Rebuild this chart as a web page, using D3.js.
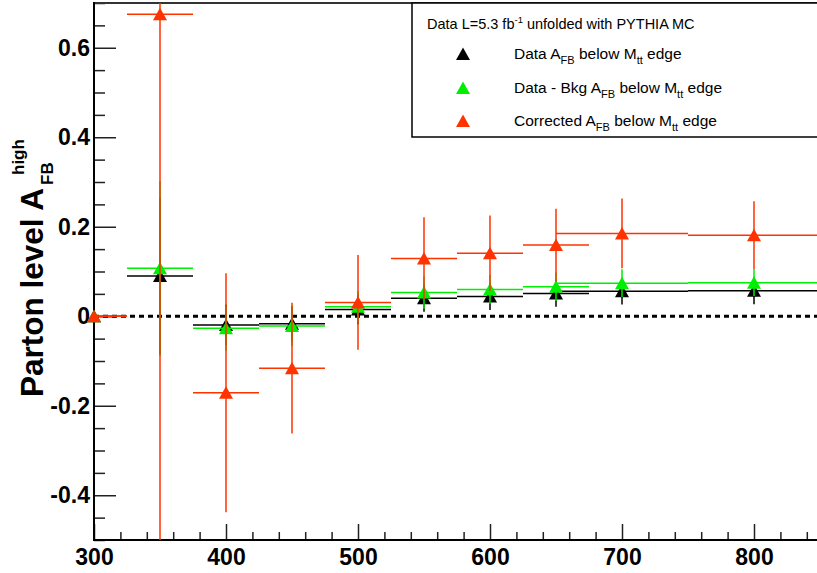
<!DOCTYPE html>
<html>
<head>
<meta charset="utf-8">
<script src="https://cdn.jsdelivr.net/npm/d3@7"></script>
<style>
  html, body { margin: 0; padding: 0; background: #fff; }
  svg { display: block; font-family: "Liberation Sans", Arial, Helvetica, sans-serif; }
</style>
</head>
<body>
<svg id="chart" width="817" height="573"></svg>
<script>
// ---- data ----
const massBins = [300, 350, 400, 450, 500, 550, 600, 650, 700, 800];
const binHalfWidth = [25, 25, 25, 25, 25, 25, 25, 25, 50, 50];
const dataAfb = [0, 0.090, -0.0195, -0.017, 0.015, 0.040, 0.044, 0.051, 0.056, 0.057];
const dataAfbErr = [0, 0.175, 0.045, 0.040, 0.033, 0.030, 0.030, 0.030, 0.030, 0.030];
const bkgSubAfb = [0, 0.107, -0.027, -0.022, 0.021, 0.053, 0.060, 0.066, 0.074, 0.075];
const bkgSubAfbErr = [0, 0.195, 0.050, 0.045, 0.035, 0.036, 0.032, 0.032, 0.031, 0.030];
const correctedAfb = [0, 0.675, -0.171, -0.116, 0.031, 0.129, 0.141, 0.159, 0.185, 0.181];
const correctedAfbErr = [0, 1.30, 0.267, 0.146, 0.106, 0.092, 0.084, 0.081, 0.078, 0.076];
const xTicks = [300, 400, 500, 600, 700, 800];
const yTicks = [-0.4, -0.2, 0, 0.2, 0.4, 0.6];
const seriesNames = ["Data", "Data - Bkg", "Corrected"];
const seriesColors = ["#000000", "#00ee00", "#ff3300"];

// ---- layout ----
const svg = d3.select("#chart");
const L = 94, R = 820, T = 3, B = 540;
const x = d3.scaleLinear().domain([300, 850]).range([L, R]);
const y = d3.scaleLinear().domain([-0.5, 0.7]).range([B, T]);

svg.append("defs").append("clipPath").attr("id", "plotclip")
  .append("rect").attr("x", L).attr("y", T).attr("width", R - L).attr("height", B - T);

// ticks (minor)
const xMinor = d3.range(300, 851, 20).filter(v => v % 100 !== 0);
const yMinor = d3.range(-0.5, 0.7001, 0.05).map(v => +v.toFixed(2)).filter(v => Math.abs(Math.round(v / 0.2) * 0.2 - v) > 1e-6);

const gxMinor = svg.append("g").attr("transform", `translate(0,${B})`)
  .call(d3.axisBottom(x).tickValues(xMinor).tickSize(-8).tickFormat(""));
const gx = svg.append("g").attr("transform", `translate(0,${B})`)
  .call(d3.axisBottom(x).tickValues(xTicks).tickSize(-16).tickPadding(9).tickFormat(d3.format("d")));
const gyMinor = svg.append("g").attr("transform", `translate(${L},0)`)
  .call(d3.axisLeft(y).tickValues(yMinor).tickSize(-11).tickFormat(""));
const gy = svg.append("g").attr("transform", `translate(${L},0)`)
  .call(d3.axisLeft(y).tickValues(yTicks).tickSize(-22).tickPadding(4)
    .tickFormat(d => d === 0 ? "0" : d3.format(".1f")(d).replace("\u2212", "-")));

[gxMinor, gx, gyMinor, gy].forEach(g => {
  g.select(".domain").remove();
  g.selectAll(".tick line").attr("stroke", "#222").attr("stroke-width", 1.5);
  g.selectAll(".tick text").attr("fill", "#000").attr("font-size", 23).attr("font-weight", "bold")
    .attr("font-family", "'Liberation Sans', Arial, Helvetica, sans-serif");
});

// frame lines
svg.append("line").attr("x1", L - 1).attr("x2", 817).attr("y1", T).attr("y2", T)
  .attr("stroke", "#333").attr("stroke-width", 2);
svg.append("line").attr("x1", L).attr("x2", L).attr("y1", T - 1).attr("y2", B + 1)
  .attr("stroke", "#000").attr("stroke-width", 2);
svg.append("line").attr("x1", L - 1).attr("x2", 817).attr("y1", B).attr("y2", B)
  .attr("stroke", "#000").attr("stroke-width", 2);

// zero dotted line
svg.append("line").attr("x1", x(300)).attr("x2", x(850)).attr("y1", y(0)).attr("y2", y(0))
  .attr("stroke", "#000").attr("stroke-width", 3.2).attr("stroke-dasharray", "5,4");

// data series
const triPath = "M0,-6.5L7,6L-7,6Z";
const allSeries = [
  { vals: dataAfb, errs: dataAfbErr },
  { vals: bkgSubAfb, errs: bkgSubAfbErr },
  { vals: correctedAfb, errs: correctedAfbErr }
];
allSeries.forEach((s, si) => {
  const col = seriesColors[si];
  const pts = massBins.map((m, i) => ({ m, hw: binHalfWidth[i], v: s.vals[i], e: s.errs[i] }));
  const g = svg.append("g");
  const gc = g.append("g").attr("clip-path", "url(#plotclip)");
  gc.selectAll("line.h").data(pts).join("line").attr("class", "h")
    .attr("x1", d => x(d.m - d.hw)).attr("x2", d => x(d.m + d.hw))
    .attr("y1", d => y(d.v)).attr("y2", d => y(d.v))
    .attr("stroke", col).attr("stroke-width", 1.5);
  gc.selectAll("line.v").data(pts.filter(d => d.e > 0)).join("line").attr("class", "v")
    .attr("x1", d => x(d.m)).attr("x2", d => x(d.m))
    .attr("y1", d => y(d.v - d.e)).attr("y2", d => y(d.v + d.e))
    .attr("stroke", col).attr("stroke-width", 1.5);
  g.selectAll("path.mk").data(pts).join("path").attr("class", "mk")
    .attr("d", triPath)
    .attr("transform", d => `translate(${x(d.m)},${y(d.v)})`)
    .attr("fill", col);
});

// legend
const lg = svg.append("g");
lg.append("rect").attr("x", 412).attr("y", T).attr("width", 420).attr("height", 134)
  .attr("fill", "#fff").attr("stroke", "#000").attr("stroke-width", 1.5);
const hdr = lg.append("text").attr("x", 427).attr("y", 29).attr("font-size", 14.5).attr("fill", "#000");
hdr.append("tspan").text("Data L=5.3 fb");
hdr.append("tspan").attr("font-size", 9.5).attr("dy", -6).text("-1");
hdr.append("tspan").attr("dy", 6).text(" unfolded with PYTHIA MC");

const entryY = [54, 88, 121];
seriesNames.forEach((nm, i) => {
  lg.append("path").attr("d", triPath)
    .attr("transform", `translate(463,${entryY[i]})`).attr("fill", seriesColors[i]);
  const t = lg.append("text").attr("x", 514).attr("y", entryY[i] + 5).attr("font-size", 15.5).attr("fill", "#000");
  t.append("tspan").text(nm + " A");
  t.append("tspan").attr("font-size", 11).attr("dy", 5).text("FB");
  t.append("tspan").attr("dy", -5).text(" below M");
  t.append("tspan").attr("font-size", 11).attr("dy", 5).text("tt");
  t.append("tspan").attr("dy", -5).text(" edge");
});

// y-axis title
const yt = svg.append("g").attr("transform", "rotate(-90)")
  .attr("font-weight", "bold").attr("fill", "#000");
yt.append("text").attr("x", -397).attr("y", 43).attr("font-size", 31.5).text("Parton level A");
yt.append("text").attr("x", -185).attr("y", 53).attr("font-size", 17).text("FB");
yt.append("text").attr("x", -175).attr("y", 24).attr("font-size", 17).text("high");
</script>
</body>
</html>
